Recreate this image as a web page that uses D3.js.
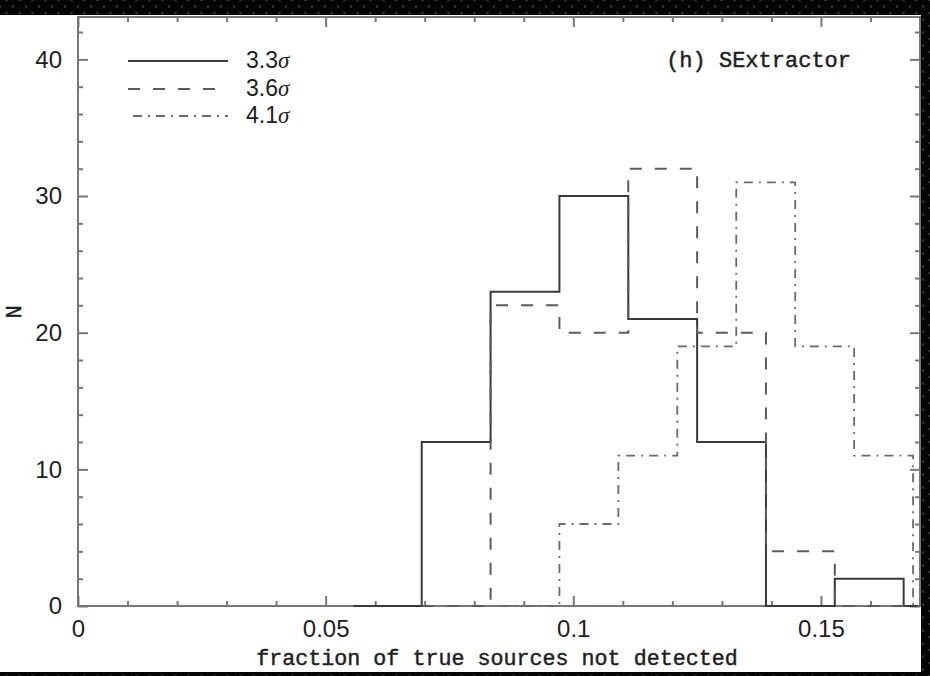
<!DOCTYPE html>
<html>
<head>
<meta charset="utf-8">
<script src="https://cdn.jsdelivr.net/npm/d3@7"></script>
<style>
  html, body { margin: 0; padding: 0; background: #111; }
  svg { display: block; }
</style>
</head>
<body>
<script>
// Histogram bin edges (fraction of true sources not detected) and counts per bin
const edges33 = [0.0556, 0.0694, 0.0833, 0.0972, 0.1111, 0.1250, 0.1389, 0.1528, 0.1667, 0.1806];
const counts33 = [0, 12, 23, 30, 21, 12, 0, 2, 0];

const edges36 = [0.0694, 0.0833, 0.0972, 0.1111, 0.1250, 0.1389, 0.1528, 0.1667, 0.1806];
const counts36 = [0, 22, 20, 32, 20, 4, 0, 0];

const edges41 = [0.0853, 0.0972, 0.1091, 0.1210, 0.1329, 0.1448, 0.1567, 0.1686, 0.1805];
const counts41 = [0, 6, 11, 19, 31, 19, 11, 0];

const seriesNames = ["3.3\u03c3", "3.6\u03c3", "4.1\u03c3"];

// Axis ticks
const xMajorTicks = [0, 0.05, 0.1, 0.15];
const xMajorLabels = ["0", "0.05", "0.1", "0.15"];
const xMinorTicks = [0.01, 0.02, 0.03, 0.04, 0.06, 0.07, 0.08, 0.09, 0.11, 0.12, 0.13, 0.14, 0.16];
const yMajorTicks = [0, 10, 20, 30, 40];
const yMinorTicks = [2, 4, 6, 8, 12, 14, 16, 18, 22, 24, 26, 28, 32, 34, 36, 38, 42];

const xTitle = "fraction of true sources not detected";
const yTitle = "N";
const panelTitle = "(h) SExtractor";

const W = 930, H = 676;
const plot = { left: 78, right: 920, top: 17, bottom: 606 };

const svg = d3.select("body").append("svg").attr("width", W).attr("height", H);

// dark textured backdrop
const defs = svg.append("defs");
const pat = defs.append("pattern").attr("id", "weave")
  .attr("width", 13).attr("height", 13).attr("patternUnits", "userSpaceOnUse");
pat.append("rect").attr("width", 13).attr("height", 13).attr("fill", "#3a3d40");
[[0, 0], [13, 0], [0, 13], [13, 13], [6.5, 6.5]].forEach(([cx, cy]) =>
  pat.append("circle").attr("cx", cx).attr("cy", cy).attr("r", 5.6).attr("fill", "#050505"));
svg.append("rect").attr("width", W).attr("height", H).attr("fill", "url(#weave)");

// white sheet
svg.append("rect").attr("x", 0).attr("y", 15).attr("width", 921).attr("height", 657).attr("fill", "#ffffff");

defs.append("clipPath").attr("id", "plotclip").append("rect")
  .attr("x", plot.left).attr("y", plot.top - 2)
  .attr("width", plot.right - plot.left).attr("height", plot.bottom - plot.top + 4);

const x = d3.scaleLinear().domain([0, 0.17]).range([plot.left, plot.right]);
const y = d3.scaleLinear().domain([0, 43.1]).range([plot.bottom, plot.top]);

const axisColor = "#777";
const textColor = "#1e1e1e";

function styleAxis(g) {
  g.select(".domain").remove();
  g.selectAll(".tick line").attr("stroke", axisColor).attr("stroke-width", 2);
  g.selectAll("text").attr("fill", textColor)
    .attr("font-family", "'Liberation Sans', Arial, sans-serif").attr("font-size", 24);
}

// bottom axis
svg.append("g").attr("transform", `translate(0,${plot.bottom})`)
  .call(d3.axisBottom(x).tickValues(xMajorTicks).tickSize(-10).tickPadding(14)
    .tickFormat((d, i) => xMajorLabels[i]))
  .call(styleAxis);
svg.append("g").attr("transform", `translate(0,${plot.bottom})`)
  .call(d3.axisBottom(x).tickValues(xMinorTicks).tickSize(-5).tickFormat(""))
  .call(styleAxis);
// top axis
svg.append("g").attr("transform", `translate(0,${plot.top})`)
  .call(d3.axisTop(x).tickValues(xMajorTicks).tickSize(-10).tickFormat(""))
  .call(styleAxis);
svg.append("g").attr("transform", `translate(0,${plot.top})`)
  .call(d3.axisTop(x).tickValues(xMinorTicks).tickSize(-5).tickFormat(""))
  .call(styleAxis);
// left axis
svg.append("g").attr("transform", `translate(${plot.left},0)`)
  .call(d3.axisLeft(y).tickValues(yMajorTicks).tickSize(-10).tickPadding(16))
  .call(styleAxis);
svg.append("g").attr("transform", `translate(${plot.left},0)`)
  .call(d3.axisLeft(y).tickValues(yMinorTicks).tickSize(-5).tickFormat(""))
  .call(styleAxis);
// right axis
svg.append("g").attr("transform", `translate(${plot.right},0)`)
  .call(d3.axisRight(y).tickValues(yMajorTicks).tickSize(-10).tickFormat(""))
  .call(styleAxis);
svg.append("g").attr("transform", `translate(${plot.right},0)`)
  .call(d3.axisRight(y).tickValues(yMinorTicks).tickSize(-5).tickFormat(""))
  .call(styleAxis);

// frame
svg.append("rect").attr("x", plot.left).attr("y", plot.top)
  .attr("width", plot.right - plot.left).attr("height", plot.bottom - plot.top)
  .attr("fill", "none").attr("stroke", axisColor).attr("stroke-width", 2);

// step outlines
function stepPoints(edges, counts) {
  const pts = [[edges[0], 0]];
  counts.forEach((c, i) => { pts.push([edges[i], c]); pts.push([edges[i + 1], c]); });
  pts.push([edges[edges.length - 1], 0]);
  return pts;
}
const line = d3.line().x(d => x(d[0])).y(d => y(d[1]));

const styles = [
  { stroke: "#3a3a3a", width: 2, dash: null },
  { stroke: "#5c5c5c", width: 2, dash: "12,13" },
  { stroke: "#6a6a6a", width: 1.8, dash: "9,6,2,6" }
];
const series = [[edges33, counts33], [edges36, counts36], [edges41, counts41]];

const hg = svg.append("g").attr("clip-path", "url(#plotclip)");
series.forEach(([e, c], i) => {
  hg.append("path").attr("d", line(stepPoints(e, c)))
    .attr("fill", "none").attr("stroke", styles[i].stroke)
    .attr("stroke-width", styles[i].width)
    .attr("stroke-dasharray", styles[i].dash);
});

// legend
const legY = [61, 89, 116];
const legX0 = [128, 128, 133];
seriesNames.forEach((name, i) => {
  svg.append("line").attr("x1", legX0[i]).attr("x2", 228).attr("y1", legY[i]).attr("y2", legY[i])
    .attr("stroke", styles[i].stroke).attr("stroke-width", styles[i].width)
    .attr("stroke-dasharray", styles[i].dash);
  const t = svg.append("text").attr("x", 246).attr("y", legY[i] + 7)
    .attr("fill", textColor).attr("font-family", "'Liberation Sans', Arial, sans-serif")
    .attr("font-size", 23);
  t.append("tspan").text(name.slice(0, -1));
  t.append("tspan").attr("font-family", "'Liberation Serif', serif").attr("font-style", "italic")
    .text(name.slice(-1));
});

// typewriter-style captions, slightly thickened
function mono(sel, size) {
  return sel.attr("fill", textColor).attr("font-family", "'Liberation Mono', monospace")
    .attr("font-size", size).attr("stroke", textColor).attr("stroke-width", 0.45);
}

// panel title
mono(svg.append("text").attr("x", 851).attr("y", 67).attr("text-anchor", "end"), 22)
  .text(panelTitle);

// axis titles
mono(svg.append("text").attr("x", (plot.left + plot.right) / 2 - 2).attr("y", 665)
  .attr("text-anchor", "middle"), 21.7).text(xTitle);

mono(svg.append("text").attr("transform", "translate(21,312) rotate(-90)")
  .attr("text-anchor", "middle"), 22).text(yTitle);
</script>
</body>
</html>
